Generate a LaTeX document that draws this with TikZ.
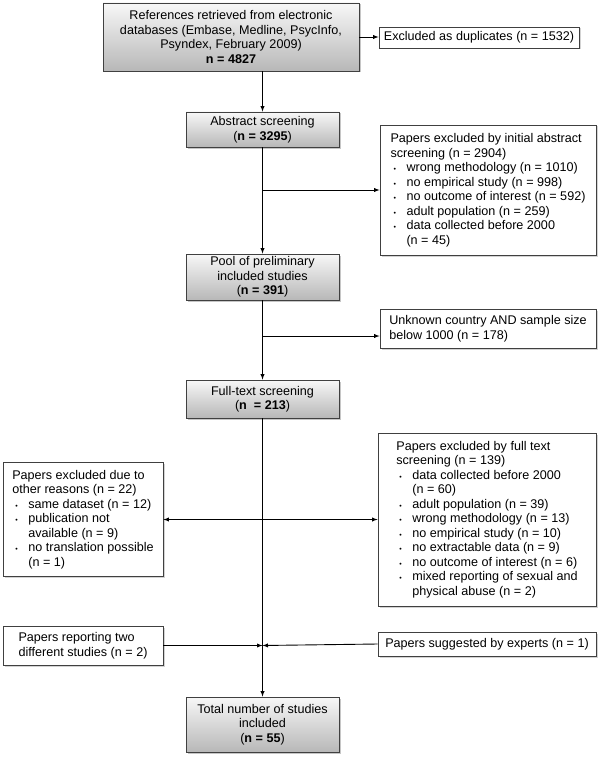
\documentclass[tikz,border=0pt]{standalone}
\usepackage{fontspec}
\setmainfont{Liberation Sans}
\usetikzlibrary{shadows}

\newcommand{\bul}{\makebox[16pt][l]{\hspace{3pt}{\fontsize{7}{7}\selectfont\textbullet}}}
\newcommand{\ind}{\hspace*{16pt}}

\tikzset{
    mainbox/.style={draw=black!75, line width=0.8pt, top color=black!3, bottom color=black!28,
        drop shadow={shadow xshift=1.5pt, shadow yshift=-1.5pt, opacity=0.45}, align=center, inner sep=2pt},
    sidebox/.style={draw=black!75, line width=0.8pt, fill=white,
        drop shadow={shadow xshift=1.5pt, shadow yshift=-1.5pt, opacity=0.35}, align=left, inner sep=2pt},
    link/.style={black, line width=0.9pt}
}

\begin{document}
\begin{tikzpicture}[x=1pt, y=-1pt, >=latex, font=\fontsize{12.6pt}{14.5pt}\selectfont]
    \useasboundingbox (0,0) rectangle (602,757);

    % Main flow
    \node[mainbox, minimum width=256pt, minimum height=68pt] (refs) at (231,37)
        {References retrieved from electronic\\databases (Embase, Medline, PsycInfo,\\Psyndex, February 2009)\\\textbf{n = 4827}};
    \node[mainbox, minimum width=153pt, minimum height=35pt] (abs) at (262.5,129.5)
        {Abstract screening\\(\textbf{n = 3295})};
    \node[mainbox, minimum width=153pt, minimum height=46pt] (pool) at (262.5,277)
        {Pool of preliminary\\included studies\\(\textbf{n = 391})};
    \node[mainbox, minimum width=153pt, minimum height=38pt] (full) at (262.5,399)
        {Full-text screening\\(\textbf{n \ = 213})};
    \node[mainbox, minimum width=153pt, minimum height=55pt] (total) at (262.5,724.5)
        {Total number of studies\\included\\(\textbf{n = 55})};

    % Exclusions on the right
    \node[sidebox, minimum width=200pt, minimum height=21pt] (dup) at (479,37.5)
        {Excluded as duplicates (n = 1532)};
    \node[sidebox, minimum width=216pt, minimum height=130pt] (absx) at (488,190)
        {Papers excluded by initial abstract\\screening (n = 2904)\\
         \bul wrong methodology (n = 1010)\\
         \bul no empirical study (n = 998)\\
         \bul no outcome of interest (n = 592)\\
         \bul adult population (n = 259)\\
         \bul data collected before 2000\\
         \ind (n = 45)};
    \node[sidebox, minimum width=216pt, minimum height=39pt] (unk) at (488,328.5)
        {Unknown country AND sample size\\below 1000 (n = 178)};
    \node[sidebox, minimum width=218pt, minimum height=173pt] (fullx) at (487,519.5)
        {Papers excluded by full text\\screening (n = 139)\\
         \bul data collected before 2000\\
         \ind (n = 60)\\
         \bul adult population (n = 39)\\
         \bul wrong methodology (n = 13)\\
         \bul no empirical study (n = 10)\\
         \bul no extractable data (n = 9)\\
         \bul no outcome of interest (n = 6)\\
         \bul mixed reporting of sexual and\\
         \ind physical abuse (n = 2)};
    \node[sidebox, minimum width=218pt, minimum height=24pt] (exp) at (487,644)
        {Papers suggested by experts (n = 1)};

    % Boxes on the left
    \node[sidebox, minimum width=160pt, minimum height=114pt] (oth) at (83,519.5)
        {Papers excluded due to\\other reasons (n = 22)\\
         \bul same dataset (n = 12)\\
         \bul publication not\\
         \ind available (n = 9)\\
         \bul no translation possible\\
         \ind (n = 1)};
    \node[sidebox, minimum width=160pt, minimum height=39pt] (two) at (83,645.5)
        {Papers reporting two\\different studies (n = 2)};

    % Arrows
    \draw[link, ->] (refs.east) -- (refs.east -| dup.west);
    \draw[link, ->] (refs.south -| abs.north) -- (abs.north);
    \draw[link, ->] (abs.south) -- (pool.north);
    \draw[link, ->] (pool.south) -- (full.north);
    \draw[link, ->] (full.south) -- (total.north);

    \coordinate (j1) at (abs.south |- absx.west);
    \draw[link, ->] (j1) -- (absx.west);
    \coordinate (j2) at (262.5,336);
    \draw[link, ->] (j2) -- (j2 -| unk.west);
    \draw[link, <->] (oth.east) -- (fullx.west);
    \coordinate (j3) at (full.south |- two.east);
    \draw[link, ->] (two.east) -- (j3);
    \draw[link, ->] (exp.west) -- (j3);
\end{tikzpicture}
\end{document}
